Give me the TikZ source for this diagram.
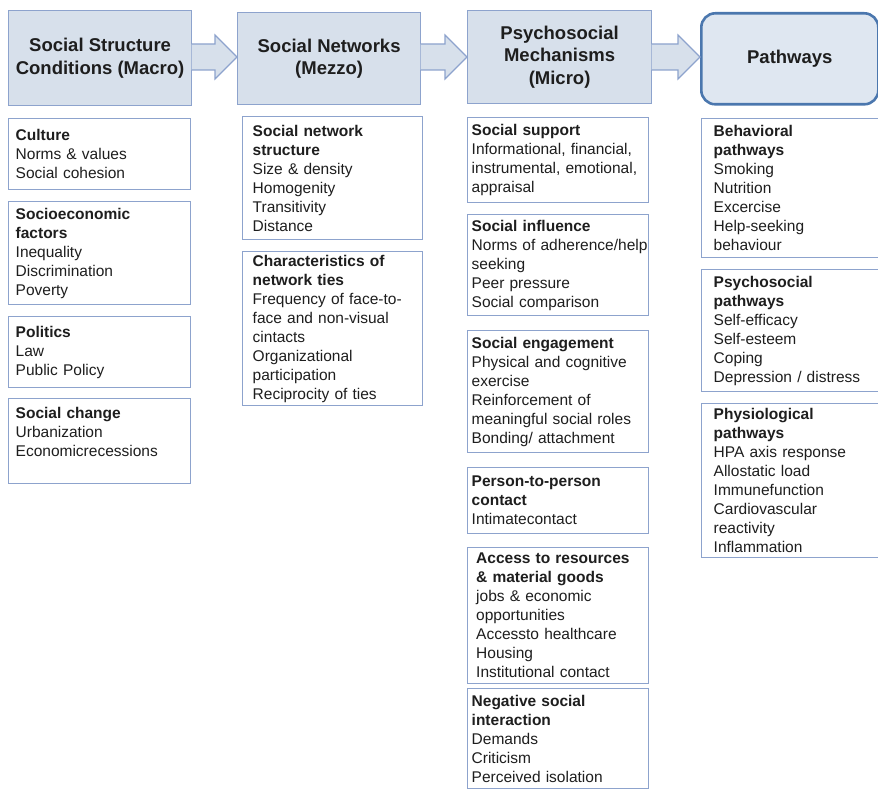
\documentclass[tikz,border=0pt]{standalone}
\usepackage{fontspec}
\setmainfont{Liberation Sans}
\usepackage{tikz}
\usetikzlibrary{calc}
\definecolor{figline}{HTML}{8DA3CD}
\definecolor{fighead}{HTML}{D7E0EB}
\definecolor{figpath}{HTML}{DFE7F1}
\definecolor{figdark}{HTML}{4B77AE}
\definecolor{figtext}{HTML}{1E1E1E}
\tikzset{
  every picture/.append style={font=\fontsize{15.5}{19}\selectfont},
  headbox/.style={draw=figline, fill=fighead, line width=1.2pt, anchor=north west,
    align=center, text=figtext, font=\bfseries\fontsize{18.5}{22.5}\selectfont},
  blockarrow/.style={draw=figline, fill=fighead, line width=1.2pt, line join=miter},
  itembox/.style={draw=figline, fill=white, line width=1.4pt, anchor=north west,
    align=left, text=figtext, inner ysep=2pt},
  colA/.style={itembox, text width=168pt, inner xsep=7pt},
  colB/.style={itembox, text width=160pt, inner xsep=10pt},
  colC/.style={itembox, text width=173pt, inner xsep=4pt},
  colD/.style={itembox, text width=160pt, inner xsep=12pt},
}

\begin{document}
\begin{tikzpicture}[x=1pt,y=-1pt]
  \useasboundingbox (0,0) rectangle (878,789);
  % header row
  \node[headbox, minimum width=183pt, minimum height=95pt] (h1) at (8,10) {Social Structure\\Conditions (Macro)};
  \node[headbox, minimum width=183pt, minimum height=92pt] (h2) at (237,12) {Social Networks\\(Mezzo)};
  \node[headbox, minimum width=184pt, minimum height=93pt] (h3) at (467,10) {Psychosocial\\Mechanisms\\(Micro)};
  \node[headbox, draw=figdark, fill=figpath, line width=2.6pt, rounded corners=14pt,
    minimum width=177pt, minimum height=91pt] (h4) at (700,12) {Pathways};
  \coordinate (axis) at (0,57);
  \foreach \a/\b in {h1/h2,h2/h3,h3/h4} {
    \draw[blockarrow] let \p1=(\a.east), \p2=(\b.west), \p3=(axis) in
      (\x1-0.6pt,\y3+13pt) -- (\x2-22pt,\y3+13pt) -- (\x2-22pt,\y3+22pt) -- (\x2,\y3)
      -- (\x2-22pt,\y3-22pt) -- (\x2-22pt,\y3-13pt) -- (\x1-0.6pt,\y3-13pt);
  }

  % macro column
  \node[colA, minimum height=71pt] (cul) at (8,118) {\textbf{Culture}\\Norms \& values\\Social cohesion};
  \node[colA, minimum height=103pt] (soc) at (8,201) {\textbf{Socioeconomic}\\\textbf{factors}\\Inequality\\Discrimination\\Poverty};
  \node[colA, minimum height=71pt] (pol) at (8,316) {\textbf{Politics}\\Law\\Public Policy};
  \node[colA, minimum height=85pt] (chg) at (8,398) {\textbf{Social change}\\Urbanization\\Economicrecessions\\\mbox{}};

  % mezzo column
  \node[colB, minimum height=123pt] (net) at (242,116) {\textbf{Social network}\\\textbf{structure}\\Size \& density\\Homogenity\\Transitivity\\Distance};
  \node[colB, minimum height=154pt] (tie) at (242,251) {\textbf{Characteristics of}\\\textbf{network ties}\\Frequency of face-to-\\face and non-visual\\cintacts\\Organizational\\participation\\Reciprocity of ties};

  % micro column
  \node[colC, minimum height=85pt] (sup) at (467,117) {\textbf{Social support}\\Informational, financial,\\instrumental, emotional,\\appraisal};
  \node[colC, minimum height=101pt] (inf) at (467,214) {\textbf{Social influence}\\\mbox{Norms of adherence/help}\\seeking\\Peer pressure\\Social comparison};
  \node[colC, minimum height=122pt] (eng) at (467,330) {\textbf{Social engagement}\\Physical and cognitive\\exercise\\Reinforcement of\\meaningful social roles\\Bonding/ attachment};
  \node[colC, minimum height=66pt] (ptp) at (467,467) {\textbf{Person-to-person}\\\textbf{contact}\\Intimatecontact};
  \node[colC, text width=164pt, inner xsep=8.5pt, minimum height=136pt] (acc) at (467,547) {\textbf{Access to resources}\\\textbf{\& material goods}\\jobs \& economic\\opportunities\\Accessto healthcare\\Housing\\Institutional contact};
  \node[colC, minimum height=100pt] (neg) at (467,688) {\textbf{Negative social}\\\textbf{interaction}\\Demands\\Criticism\\Perceived isolation};

  % pathways column
  \node[colD, minimum height=139pt] (beh) at (701,118) {\textbf{Behavioral}\\\textbf{pathways}\\Smoking\\Nutrition\\Excercise\\Help-seeking\\behaviour};
  \node[colD, minimum height=122pt] (psy) at (701,269) {\textbf{Psychosocial}\\\textbf{pathways}\\Self-efficacy\\Self-esteem\\Coping\\Depression / distress};
  \node[colD, minimum height=154pt] (phy) at (701,403) {\textbf{Physiological}\\\textbf{pathways}\\HPA axis response\\Allostatic load\\Immunefunction\\Cardiovascular\\reactivity\\Inflammation};
\end{tikzpicture}
\end{document}
